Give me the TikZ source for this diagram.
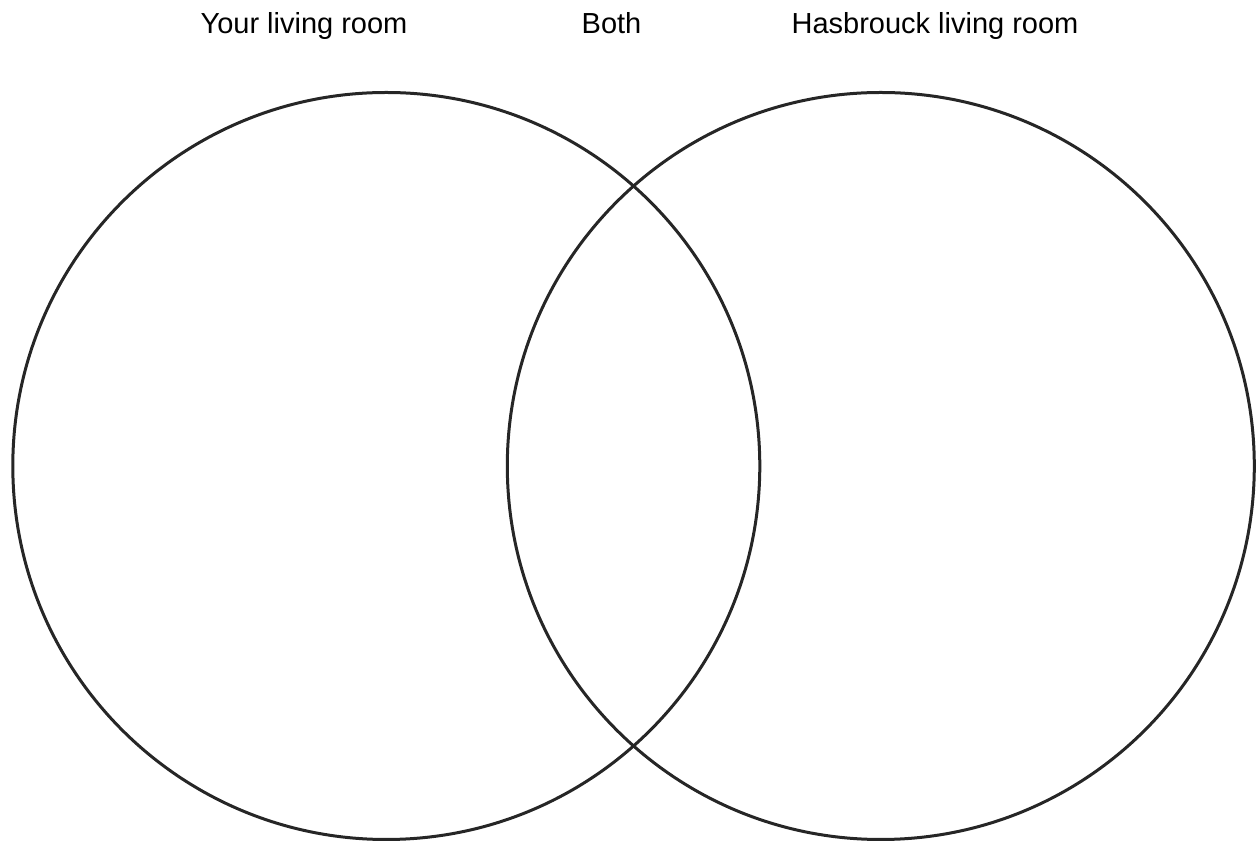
\documentclass[tikz,border=0pt]{standalone}
\usepackage{fontspec}
\setmainfont{Liberation Sans}
\usepackage{xcolor}
\usepackage{tikz}
\usetikzlibrary{positioning}

\definecolor{ringgray}{HTML}{262626}

\begin{document}
\begin{tikzpicture}[
  x=1pt, y=1pt,
  ring/.style={circle, draw=ringgray, line width=3pt, inner sep=0pt, minimum size=747pt},
  label/.style={anchor=base, inner sep=0pt, font=\fontsize{29}{35}\selectfont}
]
\useasboundingbox (0,0) rectangle (1259,843);

\node[ring] (yours) at (386.3,377) {};
\node[ring] (hasb) at (880.8,377) {};

\node[label] (yourlabel) at (304,809) {Your living room};
\node[label] (bothlabel) at (611.5,809) {Both};
\node[label] (hasblabel) at (935,809) {Hasbrouck living room};
\end{tikzpicture}
\end{document}
